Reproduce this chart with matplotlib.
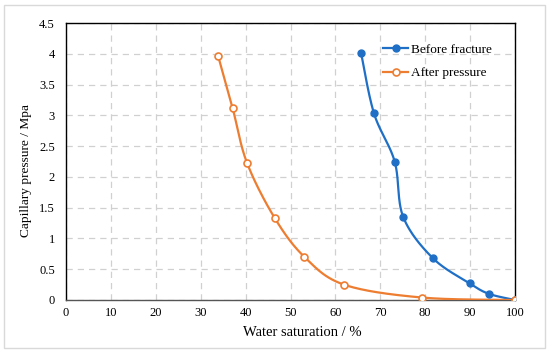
import numpy as np
import matplotlib
matplotlib.use("Agg")
import matplotlib.pyplot as plt
from matplotlib.patches import Rectangle

before_sw = [65.7, 68.6, 73.2, 75.1, 81.7, 89.9, 94.2, 100.0]
before_pc = [4.02, 3.03, 2.25, 1.35, 0.68, 0.27, 0.10, 0.0]
after_sw = [33.9, 37.1, 40.3, 46.5, 53.1, 61.9, 79.3, 100.0]
after_pc = [3.96, 3.12, 2.23, 1.33, 0.70, 0.25, 0.04, 0.0]
x_ticks = list(range(0, 101, 10))
y_ticks = [0, 0.5, 1, 1.5, 2, 2.5, 3, 3.5, 4, 4.5]
y_ticklabels = ["0", "0.5", "1", "1.5", "2", "2.5", "3", "3.5", "4", "4.5"]

def smooth(x, y, n=40):
    x = np.asarray(x, float); y = np.asarray(y, float)
    P = np.column_stack([x, y])
    out = []
    for i in range(len(P) - 1):
        p0 = P[i - 1] if i > 0 else P[i]
        p1 = P[i]; p2 = P[i + 1]
        p3 = P[i + 2] if i + 2 < len(P) else P[i + 1]
        c1 = p1 + (p2 - p0) / 6.0
        c2 = p2 - (p3 - p1) / 6.0
        t = np.linspace(0, 1, n)[:, None]
        seg = (1 - t) ** 3 * p1 + 3 * (1 - t) ** 2 * t * c1 + 3 * (1 - t) * t ** 2 * c2 + t ** 3 * p2
        out.append(seg)
    s = np.vstack(out)
    return s[:, 0], s[:, 1]

plt.rcParams['font.family'] = ['Liberation Serif', 'DejaVu Serif']
fig = plt.figure(figsize=(5.5, 3.56), dpi=100)
fig.patches.append(Rectangle((4/550, 1 - 348/356), 541/550, 343/356, transform=fig.transFigure,
                             fill=False, edgecolor='#d9d9d9', linewidth=1))
ax = fig.add_axes([66/550, 1 - 300/356, (515 - 66)/550, (300 - 23)/356])

blue = '#1f6fc6'
orange = '#ed7d31'
bx, by = smooth(before_sw, before_pc)
ax.plot(bx, by, color=blue, lw=1.6, zorder=3)
ax.plot(before_sw, before_pc, 'o', color=blue, ms=5, zorder=4)
ax.plot([], [], '-o', color=blue, lw=1.6, ms=5, label='Before fracture')
axx, ayy = smooth(after_sw, after_pc)
ax.plot(axx, ayy, color=orange, lw=1.6, zorder=3)
ax.plot(after_sw, after_pc, 'o', color=orange, mfc='white', mew=1.2, ms=5, zorder=4)
ax.plot([], [], '-o', color=orange, mfc='white', mew=1.2, lw=1.6, ms=5, label='After pressure')

ax.set_xlim(0, 100)
ax.set_ylim(0, 4.5)
ax.set_xticks(x_ticks)
ax.set_yticks(y_ticks)
ax.set_yticklabels(y_ticklabels)
ax.tick_params(axis='x', length=0, labelsize=9, pad=5)
ax.tick_params(axis='y', length=0, labelsize=9, pad=8)
ax.grid(True, color='#d0d0d0', linestyle=(0, (5, 4)), linewidth=0.9)
ax.set_axisbelow(True)
for s in ax.spines.values():
    s.set_color('black'); s.set_linewidth(1.0)
ax.spines['bottom'].set_color('#555555')
ax.set_xlabel('Water saturation / %', fontsize=10.5)
ax.xaxis.label.set_va('center')
ax.xaxis.set_label_coords((302 - 66) / 449, (300 - 332) / 277)
ax.set_ylabel('Capillary pressure / Mpa', fontsize=9.6)
ax.yaxis.label.set_va('center')
ax.yaxis.set_label_coords((26 - 66) / 449, (300 - 171) / 277)
leg = ax.legend(loc='upper left', bbox_to_anchor=(0.706, 0.925), frameon=False, fontsize=9.5,
                handlelength=1.9, handletextpad=0.2, labelspacing=0.85,
                borderaxespad=0, borderpad=0)
fig.savefig('out.png', dpi=100)
